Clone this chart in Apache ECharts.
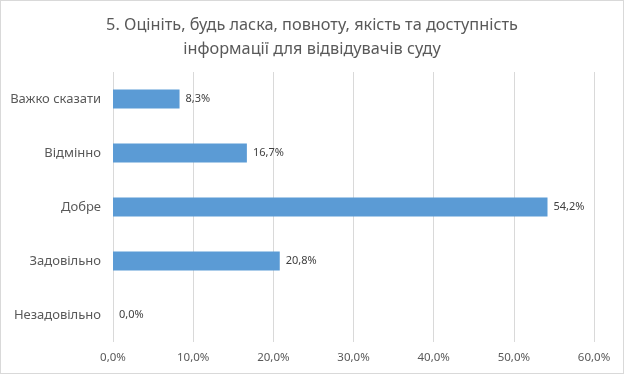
<!DOCTYPE html>
<html><head><meta charset="utf-8">
<script src="https://cdn.jsdelivr.net/npm/echarts@6/dist/echarts.min.js"></script>
<style>
html,body{margin:0;padding:0;background:#fff;}
#c{width:622px;height:372px;border:1px solid #d9d9d9;}
</style></head>
<body><div id="c"></div>
<script>
const titleText = '5. Оцініть, будь ласка, повноту, якість та доступність\nінформації для відвідувачів суду';
const categories = ['Незадовільно', 'Задовільно', 'Добре', 'Відмінно', 'Важко сказати'];
const values = [0.0, 20.8, 54.2, 16.7, 8.3];
const axisMin = 0, axisMax = 60, axisStep = 10;

const fmt = v => v.toFixed(1).replace('.', ',') + '%';
const FONT = '"Noto Sans", sans-serif';
const chart = echarts.init(document.getElementById('c'));
chart.setOption({
  animation: false,
  title: {
    text: titleText, left: 'center', top: 7,
    textStyle: {fontFamily: FONT, fontSize: 16.3, fontWeight: 'normal', color: '#595959', lineHeight: 24}
  },
  grid: {left: 112, right: 29, top: 71, bottom: 31, containLabel: false},
  xAxis: {
    type: 'value', min: axisMin, max: axisMax, interval: axisStep,
    axisLine: {show: false}, axisTick: {show: false},
    splitLine: {lineStyle: {color: '#d9d9d9', width: 1}},
    axisLabel: {formatter: fmt, color: '#595959', fontFamily: FONT, fontSize: 11.5, margin: 10}
  },
  yAxis: {
    type: 'category', data: categories,
    axisLine: {show: false}, axisTick: {show: false},
    axisLabel: {color: '#595959', fontFamily: FONT, fontSize: 13, margin: 12}
  },
  series: [{
    type: 'bar', data: values, barWidth: 19,
    itemStyle: {color: '#5b9bd5'},
    label: {show: true, position: 'right', distance: 6, formatter: p => fmt(p.value),
      color: '#404040', fontFamily: FONT, fontSize: 11}
  }]
});
</script></body></html>
